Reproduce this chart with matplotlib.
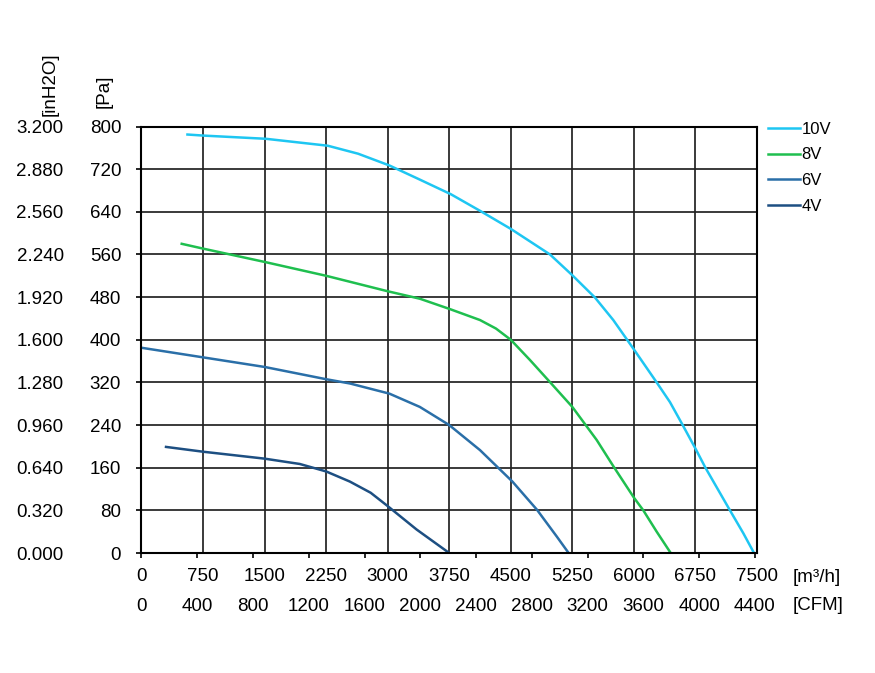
import matplotlib
matplotlib.use("Agg")
import matplotlib.pyplot as plt

# Kennlinien (Volumenstrom m³/h, Druck Pa)
flow_10v = [560, 755, 1515, 2270, 2640, 3020, 3370, 3770, 4124, 4500, 4978, 5250, 5527,
            5749, 6000, 6278, 6440, 6595, 6750, 6872, 7029, 7171, 7334, 7464]
pa_10v = [785, 783, 777, 764, 749, 727, 702, 673, 642, 608, 560, 521, 479,
          437, 382, 320, 283, 240, 196, 160, 118, 80, 37, 0]
flow_8v = [490, 750, 1500, 2250, 3000, 3392, 3750, 4125, 4320, 4500, 4734, 4987, 5250, 5547,
           5749, 6000, 6115, 6278, 6449]
pa_8v = [580, 571, 546, 520, 491, 477, 458, 437, 421, 400, 362, 319, 274, 212,
         163, 104, 80, 40, 0]
flow_6v = [0, 750, 1500, 2250, 2540, 3020, 3392, 3750, 4125, 4520, 4820, 5060, 5205]
pa_6v = [385, 367, 349, 326, 318, 299, 274, 240, 193, 134, 81, 31, 0]
flow_4v = [299, 750, 1500, 1929, 2250, 2539, 2793, 3000, 3353, 3750]
pa_4v = [199, 190, 177, 167, 153, 134, 113, 88, 44, 0]

labels = ["10V", "8V", "6V", "4V"]
m3h_ticks = [0, 750, 1500, 2250, 3000, 3750, 4500, 5250, 6000, 6750, 7500]
cfm_ticks = [0, 400, 800, 1200, 1600, 2000, 2400, 2800, 3200, 3600, 4000, 4400]
pa_ticks = [0, 80, 160, 240, 320, 400, 480, 560, 640, 720, 800]
inh2o_ticks = [0.0, 0.32, 0.64, 0.96, 1.28, 1.6, 1.92, 2.24, 2.56, 2.88, 3.2]

FARBEN = ["#1ec6f2", "#1fbf4f", "#2a6fa8", "#1d4f82"]
M3H_PRO_CFM = 1.699

plt.rcParams.update({"font.family": ["Liberation Sans", "DejaVu Sans"], "font.size": 13.5})
fig = plt.figure(figsize=(8.75, 6.73), dpi=100)
ax = fig.add_axes([0.1617, 0.1783, 0.7034, 0.6337])

for fx, py, lab, c in zip([flow_10v, flow_8v, flow_6v, flow_4v],
                          [pa_10v, pa_8v, pa_6v, pa_4v], labels, FARBEN):
    ax.plot(fx, py, color=c, lw=1.8, label=lab, solid_joinstyle="round")

ax.set_xlim(0, 7500); ax.set_ylim(0, 800)
ax.set_xticks(m3h_ticks); ax.set_xticklabels([str(v) for v in m3h_ticks])
ax.set_yticks(pa_ticks); ax.set_yticklabels([str(v) for v in pa_ticks])
ax.grid(True, color="#222222", lw=1.25)
ax.tick_params(axis="x", length=0, pad=11)
ax.tick_params(axis="y", length=3.6, width=1.2, direction="out", pad=11)
for s in ax.spines.values():
    s.set_linewidth(1.5); s.set_color("black")

# zweite x-Achse in CFM
sx = ax.secondary_xaxis("bottom", functions=(lambda q: q / M3H_PRO_CFM, lambda c: c * M3H_PRO_CFM))
sx.set_xticks(cfm_ticks); sx.set_xticklabels([str(v) for v in cfm_ticks])
sx.tick_params(length=3.6, width=1.2, direction="out", pad=29)
sx.spines["bottom"].set_visible(False)

# zweite y-Achse in inH2O
sy = ax.secondary_yaxis("left", functions=(lambda p: p / 250, lambda h: h * 250))
sy.set_yticks(inh2o_ticks); sy.set_yticklabels(["%.3f" % v for v in inh2o_ticks])
sy.tick_params(length=0, pad=56)
sy.spines["left"].set_visible(False)

fig.text(50 / 875, 1 - 84 / 673, "[inH2O]", rotation=90, ha="center", va="center")
fig.text(104 / 875, 1 - 91 / 673, "[Pa]", rotation=90, ha="center", va="center")
fig.text(793 / 875, 1 - 577 / 673, "[m³/h]", ha="left", va="center")
fig.text(793 / 875, 1 - 606 / 673, "[CFM]", ha="left", va="center")

ax.legend(loc="upper left", bbox_to_anchor=(768 / 875, 1 - 121.5 / 673), bbox_transform=fig.transFigure,
          frameon=False, fontsize=12, handlelength=1.9, handletextpad=0.1,
          labelspacing=0.65, borderpad=0, borderaxespad=0)

fig.savefig("out.png", dpi=100, facecolor="white")
